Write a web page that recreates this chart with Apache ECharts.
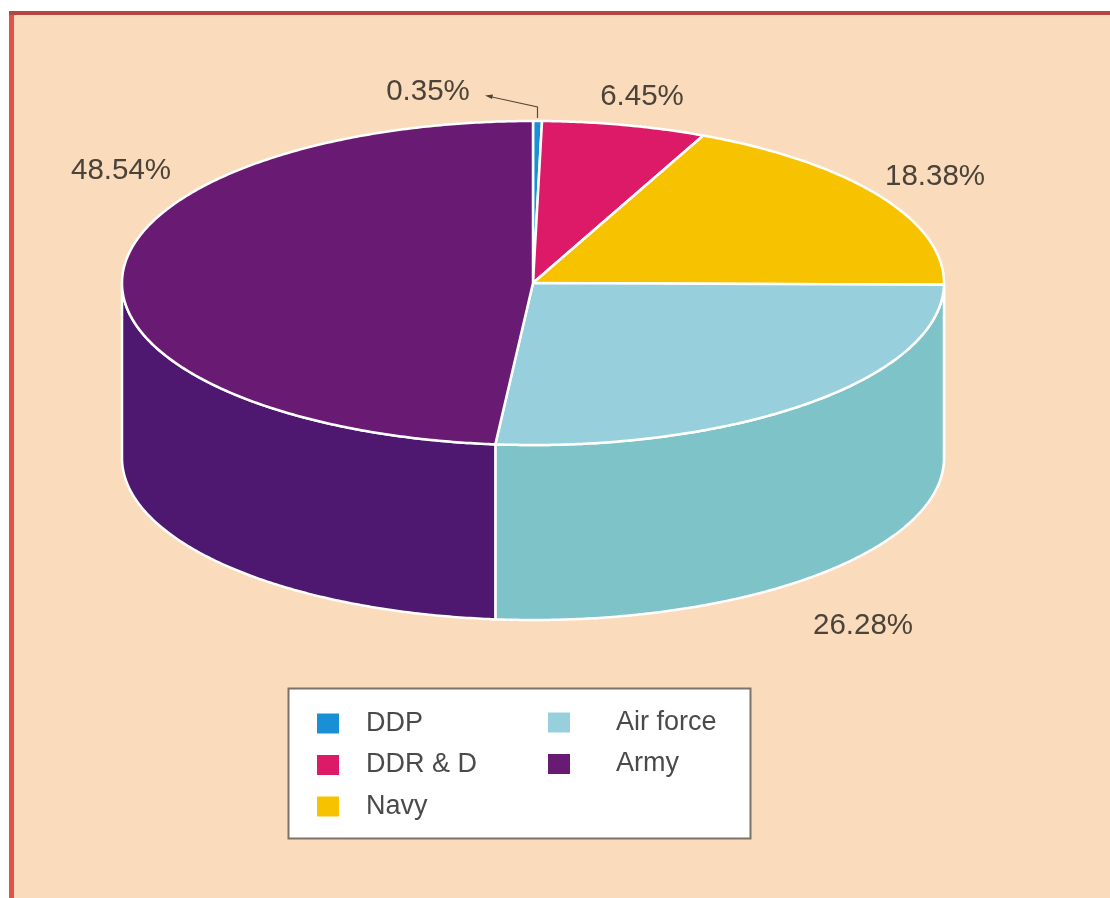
<!DOCTYPE html>
<html><head><meta charset="utf-8">
<style>html,body{margin:0;padding:0;background:#fff}#c{width:1110px;height:898px}</style>
<script src="https://cdn.jsdelivr.net/npm/echarts@6/dist/echarts.min.js"></script>
</head><body><div id="c"></div>
<script>
const categories = ['DDP', 'DDR & D', 'Navy', 'Air force', 'Army'];
const shares = [0.35, 6.45, 18.38, 26.28, 48.54];
const topColors = ['#1b8fd6', '#dc1a68', '#f7c200', '#98cfdc', '#691b74'];
const sideColors = ['#1b8fd6', '#dc1a68', '#f7c200', '#7ec3c7', '#4e1770'];

const CX = 533, CY = 283, RX = 411, RY = 162, DEPTH = 175;
const total = shares.reduce((a, b) => a + b, 0);
let running = 0;
const starts = shares.map(v => { const s = running; running += v; return s; });
const toDeg = v => v / total * 360;
const pt = (deg, dy) => {
  const a = deg * Math.PI / 180;
  return [CX + RX * Math.sin(a), CY - RY * Math.cos(a) + dy];
};
const arc = (from, to, dy) => {
  const n = Math.max(2, Math.ceil(Math.abs(to - from) / 0.5));
  const out = [];
  for (let i = 0; i <= n; i++) out.push(pt(from + (to - from) * i / n, dy));
  return out;
};
const edge = { stroke: '#fff', lineWidth: 2.5, lineJoin: 'round' };

function makeSeries(idx) {
  return {
    type: 'custom',
    name: categories[idx],
    coordinateSystem: 'none',
    itemStyle: { color: topColors[idx] },
    data: [[shares[idx]]],
    silent: true,
    renderItem(params, api) {
      const a0 = toDeg(starts[idx]);
      const a1 = a0 + toDeg(api.value(0));
      const children = [];
      const s0 = Math.max(a0, 90), s1 = Math.min(a1, 270);
      if (s1 > s0) {
        children.push({
          type: 'polygon',
          shape: { points: arc(s0, s1, 0).concat(arc(s1, s0, DEPTH)) },
          style: Object.assign({ fill: sideColors[idx] }, edge)
        });
      }
      children.push({
        type: 'polygon',
        shape: { points: [[CX, CY]].concat(arc(a0, a1, 0)) },
        style: Object.assign({ fill: topColors[idx] }, edge)
      });
      return { type: 'group', children };
    }
  };
}

const labelFont = '29.5px "Liberation Sans", Arial, sans-serif';
const pct = i => shares[i] + '%';
const labelText = (i, x, y) => ({
  type: 'text', x, y, z: 20,
  style: { text: pct(i), font: labelFont, fill: '#4b4239', textAlign: 'center', textVerticalAlign: 'middle' }
});

const legendBase = {
  orient: 'vertical', itemWidth: 22, itemHeight: 20, icon: 'rect', z: 30,
  selectedMode: false,
  textStyle: { fontFamily: '"Liberation Sans", Arial, sans-serif', fontSize: 27, color: '#4a4a4a' }
};

const chart = echarts.init(document.getElementById('c'), null, { renderer: 'canvas' });
chart.setOption({
  animation: false,
  backgroundColor: '#ffffff',
  legend: [
    Object.assign({}, legendBase, {
      data: categories.slice(0, 3), left: 312, top: 705, itemGap: 14.5, padding: 5,
      textStyle: Object.assign({}, legendBase.textStyle, { padding: [0, 0, 0, 22] })
    }),
    Object.assign({}, legendBase, {
      data: categories.slice(3), left: 543, top: 704, itemGap: 14.5, padding: 5,
      textStyle: Object.assign({}, legendBase.textStyle, { padding: [0, 0, 0, 41] })
    })
  ],
  graphic: [
    { type: 'rect', z: -10, shape: { x: 12, y: 13, width: 1100, height: 890 }, style: { fill: '#fadcbd' } },
    { type: 'rect', z: -9, shape: { x: 9, y: 12, width: 5, height: 890 }, style: { fill: '#e0524a' } },
    { type: 'rect', z: -9, shape: { x: 9, y: 11, width: 1102, height: 4 }, style: { fill: '#b8453f' } },
    { type: 'rect', z: 5, shape: { x: 288.5, y: 688.5, width: 462, height: 150 }, style: { fill: '#fff', stroke: '#7d7268', lineWidth: 2 } },
    labelText(0, 428, 92),
    labelText(1, 642, 97),
    labelText(2, 935, 177),
    labelText(3, 863, 626),
    labelText(4, 121, 171),
    { type: 'polyline', z: 20, shape: { points: [[537.5, 118], [537.5, 107], [492, 97]] }, style: { stroke: '#5a4a3a', lineWidth: 1.2, fill: 'none' } },
    { type: 'polygon', z: 20, shape: { points: [[485, 95.5], [493, 94.5], [492, 99]] }, style: { fill: '#4b4239' } }
  ],
  series: categories.map((_, i) => makeSeries(i))
});
</script></body></html>
